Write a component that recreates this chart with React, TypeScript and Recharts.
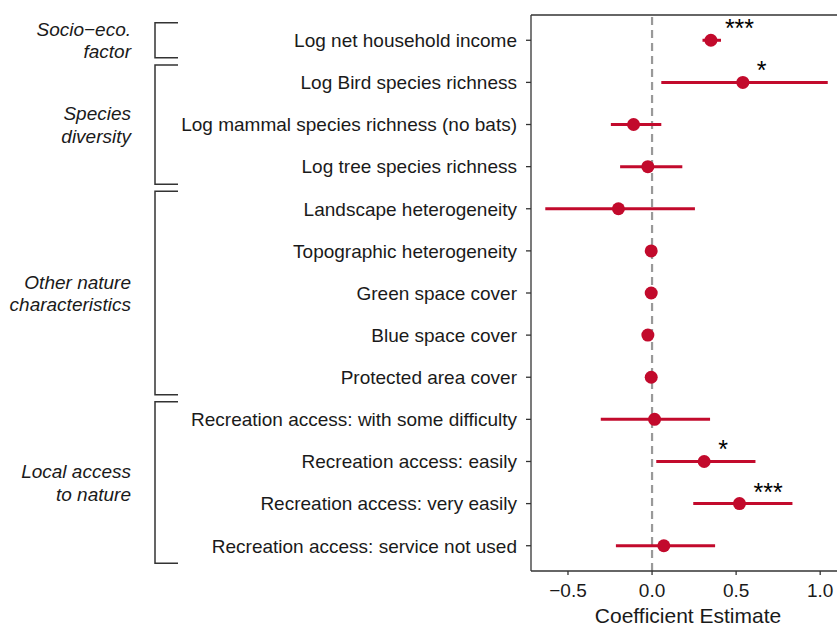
import { ScatterChart, Scatter, XAxis, YAxis, ErrorBar, ReferenceLine } from "recharts";

const rowLabels = [
  "Log net household income",
  "Log Bird species richness",
  "Log mammal species richness (no bats)",
  "Log tree species richness",
  "Landscape heterogeneity",
  "Topographic heterogeneity",
  "Green space cover",
  "Blue space cover",
  "Protected area cover",
  "Recreation access: with some difficulty",
  "Recreation access: easily",
  "Recreation access: very easily",
  "Recreation access: service not used",
];
const estimates = [0.35, 0.54, -0.11, -0.025, -0.2, -0.005, -0.005, -0.025, -0.005, 0.015, 0.31, 0.52, 0.07];
const lowerCI = [0.3, 0.055, -0.245, -0.19, -0.635, -0.01, -0.01, -0.03, -0.01, -0.305, 0.025, 0.245, -0.215];
const upperCI = [0.41, 1.045, 0.055, 0.18, 0.255, 0.0, 0.0, -0.02, 0.0, 0.345, 0.615, 0.835, 0.375];
const signif = ["***", "*", "", "", "", "", "", "", "", "", "*", "***", ""];
const xTicks = [-0.5, 0, 0.5, 1];

const groups = [
  { lines: ["Socio\u2212eco.", "factor"], from: 1, to: 1 },
  { lines: ["Species", "diversity"], from: 2, to: 4 },
  { lines: ["Other nature", "characteristics"], from: 5, to: 9 },
  { lines: ["Local access", "to nature"], from: 10, to: 13 },
];

const W = 837;
const H = 628;
const TOP = 15;
const AXIS_H = 57;
const LEFT = 531;
const RED = "#c20a2c";
const INK = "#1a1a1a";
const FONT = "'Liberation Sans', Arial, Helvetica, sans-serif";
const FS = 19;

const data = rowLabels.map((name, i) => ({
  name,
  row: i + 1,
  est: estimates[i],
  err: [estimates[i] - lowerCI[i], upperCI[i] - estimates[i]],
  sig: signif[i],
}));

// same row mapping as the y scale (domain 0.4..13.6)
const plotH = H - TOP - AXIS_H;
const rowY = (r: number) => TOP + ((r - 0.4) / 13.2) * plotH;

const Dot = (p: any) => (
  <g>
    <circle cx={p.cx} cy={p.cy} r={6.5} fill={RED} />
    {p.payload.sig ? (
      <text x={p.cx + 14} y={p.cy - 3} fontSize={25} fill="#000" fontFamily={FONT}>
        {p.payload.sig}
      </text>
    ) : null}
  </g>
);

const YTick = (p: any) => (
  <text x={p.x} y={p.y} dy="0.36em" textAnchor="end" fontSize={FS} fill={INK} fontFamily={FONT}>
    {rowLabels[p.payload.value - 1]}
  </text>
);

const fmt = (v: number) => (v < 0 ? "\u2212" + Math.abs(v).toFixed(1) : v.toFixed(1));

const XTick = (p: any) => (
  <text x={p.x} y={p.y} dy="0.85em" textAnchor="middle" fontSize={FS} fill={INK} fontFamily={FONT}>
    {fmt(p.payload.value)}
  </text>
);

export default function App() {
  return (
    <div style={{ position: "absolute", left: 0, top: 0, width: W, height: H, background: "#fff", fontFamily: FONT }}>
      <ScatterChart width={W} height={H} margin={{ top: TOP, right: 0, bottom: 0, left: 0 }}>
        <XAxis
          type="number"
          dataKey="est"
          domain={[-0.72, 1.1]}
          allowDataOverflow
          ticks={xTicks}
          interval={0}
          height={AXIS_H}
          tickSize={4}
          tickMargin={6}
          stroke="#333"
          strokeWidth={1.3}
          tick={XTick}
          label={{ value: "Coefficient Estimate", position: "insideBottom", offset: 5, dx: 4, fontSize: 21, fill: INK, fontFamily: FONT }}
        />
        <YAxis
          type="number"
          dataKey="row"
          domain={[0.4, 13.6]}
          reversed
          ticks={rowLabels.map((_, i) => i + 1)}
          interval={0}
          width={LEFT}
          tickSize={5}
          tickMargin={9}
          stroke="#333"
          strokeWidth={1.3}
          tick={YTick}
        />
        <ReferenceLine y={0.4} stroke="#333" strokeWidth={1.3} />
        <ReferenceLine x={0} stroke="#999" strokeWidth={2.2} strokeDasharray="8 5" />
        <Scatter data={data} fill={RED} shape={Dot} isAnimationActive={false}>
          <ErrorBar dataKey="err" direction="x" width={0} stroke={RED} strokeWidth={3} isAnimationActive={false} />
        </Scatter>
      </ScatterChart>
      <svg width={W} height={H} style={{ position: "absolute", left: 0, top: 0, pointerEvents: "none" }}>
        {groups.map((g) => {
          const y1 = rowY(g.from) - 17.5;
          const y2 = rowY(g.to) + 17.5;
          const mid = (rowY(g.from) + rowY(g.to)) / 2;
          return (
            <g key={g.lines[0]}>
              <path d={`M178,${y1} H155 V${y2} H178`} fill="none" stroke="#333" strokeWidth={1.5} />
              {g.lines.map((t, k) => (
                <text
                  key={t}
                  x={131}
                  y={mid + (k - 0.5) * 22.5}
                  dy="0.36em"
                  textAnchor="end"
                  fontSize={FS}
                  fontStyle="italic"
                  fill={INK}
                  fontFamily={FONT}
                >
                  {t}
                </text>
              ))}
            </g>
          );
        })}
      </svg>
    </div>
  );
}
